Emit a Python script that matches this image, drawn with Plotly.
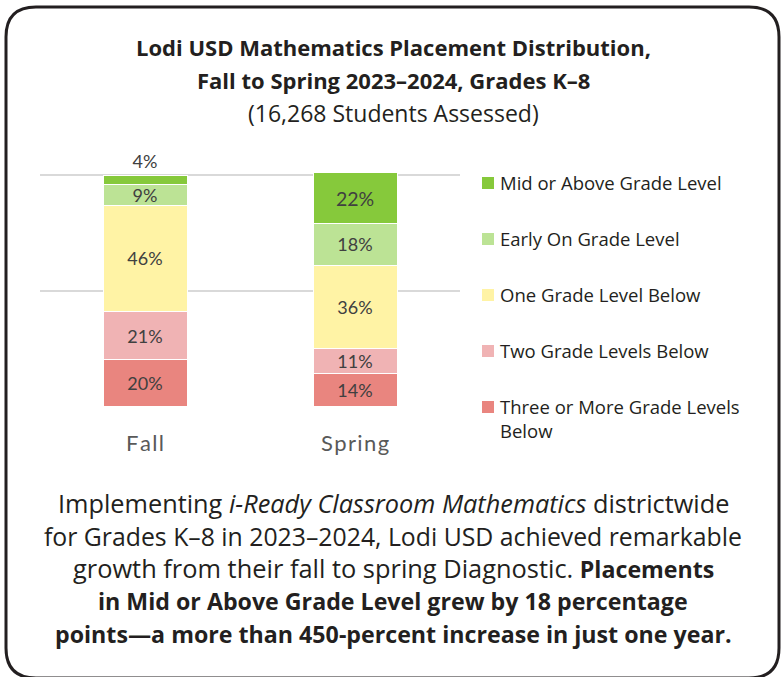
import plotly.graph_objects as go

# ---- data ----
terms = ["Fall", "Spring"]
tick_labels = ["\u200a".join(t) for t in terms]
levels = [
    "Three or More Grade Levels<br>Below",
    "Two Grade Levels Below",
    "One Grade Level Below",
    "Early On Grade Level",
    "Mid or Above Grade Level",
]
three_plus = [20, 14]
two_below = [21, 11]
one_below = [46, 36]
early_on = [9, 18]
mid_above = [4, 22]
series_values = [three_plus, two_below, one_below, early_on, mid_above]
colors = ["#E9857F", "#F0B3B4", "#FFF3A5", "#BCE395", "#86C93B"]

W, H = 781, 677
L, R, T, B = 40, 460, 152, 406  # plot area in pixels


def px(x):
    return (x - L) / (R - L)


def py(y):
    return (B - y) / (B - T)


fig = go.Figure()
for i, (name, vals, col) in enumerate(zip(levels, series_values, colors)):
    if i == len(levels) - 1:
        tpos = ["outside", "inside"]
        tsize = [18, 19.5]
    else:
        tpos = "inside"
        tsize = 18
    fig.add_trace(go.Bar(
        x=terms, y=vals, name=name,
        marker=dict(color=col, line=dict(color="white", width=1)),
        width=0.4,
        text=[f"{v}%" for v in vals], textposition=tpos,
        insidetextanchor="middle", constraintext="none",
        textfont=dict(family="Lato", size=tsize, color="#404040"),
        cliponaxis=False, showlegend=False,
        hoverinfo="skip",
    ))

shapes = []
annos = []

# legend (top item = last series)
for k, (name, col) in enumerate(zip(reversed(levels), reversed(colors))):
    yc = 183 + 56 * k
    shapes.append(dict(type="rect", xref="paper", yref="paper",
                       x0=px(482), x1=px(494), y0=py(yc - 6), y1=py(yc + 6),
                       fillcolor=col, line=dict(width=0)))
    annos.append(dict(text=name, x=px(498), y=py(yc - 15), xref="paper", yref="paper",
                      xanchor="left", yanchor="top", align="left", showarrow=False,
                      font=dict(family="Open Sans", size=18.5, color="#231F20")))

# rounded frame
x0, y0, x1, y1, r = 6, 7, 779, 678, 30
path = (
    f"M {px(x0 + r)},{py(y0)} L {px(x1 - r)},{py(y0)} "
    f"Q {px(x1)},{py(y0)} {px(x1)},{py(y0 + r)} "
    f"L {px(x1)},{py(y1 - r)} Q {px(x1)},{py(y1)} {px(x1 - r)},{py(y1)} "
    f"L {px(x0 + r)},{py(y1)} Q {px(x0)},{py(y1)} {px(x0)},{py(y1 - r)} "
    f"L {px(x0)},{py(y0 + r)} Q {px(x0)},{py(y0)} {px(x0 + r)},{py(y0)} Z"
)
shapes.append(dict(type="path", path=path, xref="paper", yref="paper",
                   line=dict(color="#231F20", width=3), layer="above"))

for txt, y, size in [
    ("<b>Lodi USD Mathematics Placement Distribution,</b>", 47, 22),
    ("<b>Fall to Spring 2023–2024, Grades K–8</b>", 80, 22),
    ("(16,268 Students Assessed)", 113, 23),
]:
    annos.append(dict(text=txt, x=px(393), y=py(y), xref="paper", yref="paper",
                      xanchor="center", yanchor="middle", showarrow=False,
                      font=dict(family="Open Sans", size=size, color="#231F20")))

BS = "font-size:23.2px"
body = [
    "Implementing <i>i-Ready Classroom Mathematics</i> districtwide",
    "for Grades K–8 in 2023–2024, Lodi USD achieved remarkable",
    f"growth from their fall to spring Diagnostic. <span style='{BS}'><b>Placements</b></span>",
    "<b>in Mid or Above Grade Level grew by 18 percentage</b>",
    "<b>points—a more than 450-percent increase in just one year.</b>",
]
sizes = [25.3, 24.8, 25.4, 23.2, 23.2]
for txt, y, s in zip(body, [503, 536, 568, 601, 634], sizes):
    annos.append(dict(text=txt, x=px(393), y=py(y), xref="paper", yref="paper",
                      xanchor="center", yanchor="middle", showarrow=False,
                      font=dict(family="Open Sans", size=s, color="#231F20")))

fig.update_layout(
    width=W, height=H,
    margin=dict(l=L, r=W - R, t=T, b=H - B, pad=0),
    paper_bgcolor="white", plot_bgcolor="white",
    barmode="stack", bargap=0.6,
    showlegend=False,
    xaxis=dict(showgrid=False, showline=False, ticks="",
               tickmode="array", tickvals=terms, ticktext=tick_labels,
               tickfont=dict(family="Lato", size=22, color="#595959"),
               ticklabelstandoff=22, range=[-0.5, 1.5], automargin=False),
    yaxis=dict(range=[0, 110], tickvals=[0, 50, 100], showticklabels=False,
               showgrid=True, gridcolor="#D9D9D9", gridwidth=2, zeroline=False,
               showline=False, fixedrange=True, automargin=False),
    shapes=shapes,
    annotations=annos,
)

fig.write_html("out.html", config={"displayModeBar": False},
               post_script="document.body.style.margin='0';document.body.style.overflow='hidden';")
